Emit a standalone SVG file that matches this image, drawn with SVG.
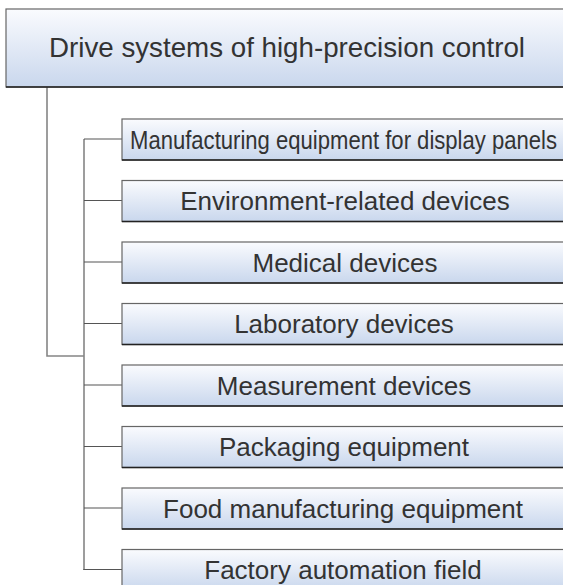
<svg xmlns="http://www.w3.org/2000/svg" width="563" height="585" viewBox="0 0 563 585">
<defs>
<linearGradient id="g" x1="0" y1="0" x2="0" y2="1">
<stop offset="0" stop-color="#fafbfe"/>
<stop offset="1" stop-color="#c9d7ed"/>
</linearGradient>
</defs>
<style>
.box{fill:url(#g);stroke:#666;stroke-width:1.2}
.bot{stroke:#222;stroke-width:1.5}
.t{font-family:"Liberation Sans",Arial,sans-serif;font-size:26px;fill:#333;text-anchor:middle}
.v{stroke:#858585;stroke-width:1.6;fill:none}
.h{stroke:#555;stroke-width:1.2;fill:none}
</style>
<rect width="563" height="585" fill="#fff"/>
<g id="connectors">
<polyline class="v" points="47,87 47,356 84,356"/>
<line class="v" x1="84" y1="139" x2="84" y2="569.5"/>
<polyline class="h" points="84,139 122,139"/>
<line class="h" x1="84" y1="200.5" x2="122" y2="200.5"/>
<line class="h" x1="84" y1="262" x2="122" y2="262"/>
<line class="h" x1="84" y1="323.5" x2="122" y2="323.5"/>
<line class="h" x1="84" y1="385" x2="122" y2="385"/>
<line class="h" x1="84" y1="446.5" x2="122" y2="446.5"/>
<line class="h" x1="84" y1="508" x2="122" y2="508"/>
<line class="h" x1="83.2" y1="569.5" x2="122" y2="569.5"/>
</g>
<g id="root">
<rect class="box" x="6" y="9" width="570" height="78"/>
<line class="bot" x1="6" y1="87" x2="563" y2="87"/>
<text class="t" x="287" y="56.5" style="font-size:28px" textLength="476" lengthAdjust="spacingAndGlyphs">Drive systems of high-precision control</text>
</g>
<g id="n1">
<rect class="box" x="122" y="119" width="450" height="41"/>
<line class="bot" x1="122" y1="160" x2="563" y2="160"/>
<text class="t" x="343.5" y="148.5" textLength="427" lengthAdjust="spacingAndGlyphs">Manufacturing equipment for display panels</text>
</g>
<g id="n2">
<rect class="box" x="122" y="180.5" width="450" height="41"/>
<line class="bot" x1="122" y1="221.5" x2="563" y2="221.5"/>
<text class="t" x="345" y="210">Environment-related devices</text>
</g>
<g id="n3">
<rect class="box" x="122" y="242" width="450" height="41"/>
<line class="bot" x1="122" y1="283" x2="563" y2="283"/>
<text class="t" x="345" y="271.5">Medical devices</text>
</g>
<g id="n4">
<rect class="box" x="122" y="303.5" width="450" height="41"/>
<line class="bot" x1="122" y1="344.5" x2="563" y2="344.5"/>
<text class="t" x="344" y="333">Laboratory devices</text>
</g>
<g id="n5">
<rect class="box" x="122" y="365" width="450" height="41"/>
<line class="bot" x1="122" y1="406" x2="563" y2="406"/>
<text class="t" x="344" y="394.5">Measurement devices</text>
</g>
<g id="n6">
<rect class="box" x="122" y="426.5" width="450" height="41"/>
<line class="bot" x1="122" y1="467.5" x2="563" y2="467.5"/>
<text class="t" x="344" y="456">Packaging equipment</text>
</g>
<g id="n7">
<rect class="box" x="122" y="488" width="450" height="41"/>
<line class="bot" x1="122" y1="529" x2="563" y2="529"/>
<text class="t" x="343" y="517.5">Food manufacturing equipment</text>
</g>
<g id="n8">
<rect class="box" x="122" y="549.5" width="450" height="41"/>
<text class="t" x="343" y="579">Factory automation field</text>
</g>
</svg>
